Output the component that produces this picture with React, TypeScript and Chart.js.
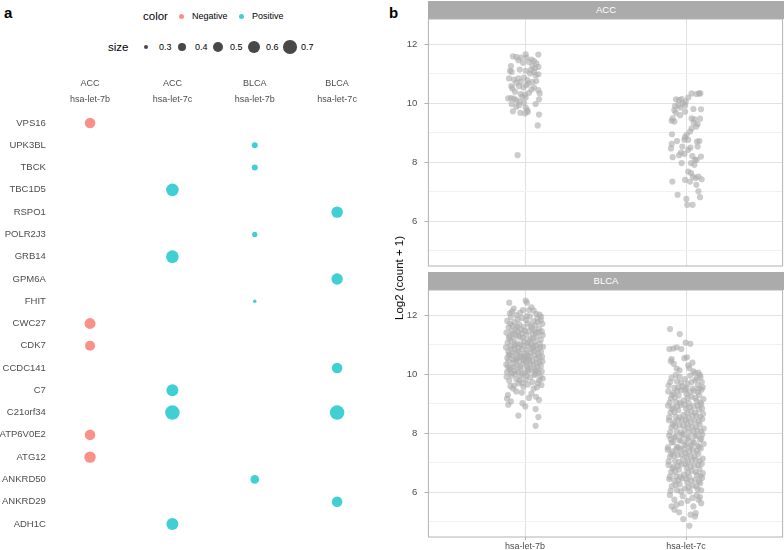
import React, { useEffect, useRef } from 'react';
import { Chart, registerables } from 'chart.js';

Chart.register(...registerables);

const FONT = '"Liberation Sans", Arial, Helvetica, sans-serif';

// ---------- Panel a : dot plot ----------
const cancerTypes = ['ACC', 'ACC', 'BLCA', 'BLCA'];
const mirnaNames = ['hsa-let-7b', 'hsa-let-7c', 'hsa-let-7b', 'hsa-let-7c'];
const genes = ['VPS16', 'UPK3BL', 'TBCK', 'TBC1D5', 'RSPO1', 'POLR2J3', 'GRB14', 'GPM6A', 'FHIT', 'CWC27', 'CDK7', 'CCDC141', 'C7', 'C21orf34', 'ATP6V0E2', 'ATG12', 'ANKRD50', 'ANKRD29', 'ADH1C'];
const dotGene = ['VPS16', 'UPK3BL', 'TBCK', 'TBC1D5', 'RSPO1', 'POLR2J3', 'GRB14', 'GPM6A', 'FHIT', 'CWC27', 'CDK7', 'CCDC141', 'C7', 'C21orf34', 'C21orf34', 'ATP6V0E2', 'ATG12', 'ANKRD50', 'ANKRD29', 'ADH1C'];
const dotColumn = [1, 3, 3, 2, 4, 3, 2, 4, 3, 1, 1, 4, 2, 2, 4, 1, 1, 3, 4, 2];
const dotSize = [0.52, 0.33, 0.33, 0.64, 0.565, 0.31, 0.64, 0.565, 0.27, 0.54, 0.49, 0.52, 0.6, 0.77, 0.77, 0.52, 0.565, 0.425, 0.52, 0.6];
const dotSign = ['Negative', 'Positive', 'Positive', 'Positive', 'Positive', 'Positive', 'Positive', 'Positive', 'Positive', 'Negative', 'Negative', 'Positive', 'Positive', 'Positive', 'Positive', 'Negative', 'Negative', 'Positive', 'Positive', 'Positive'];
const colorLevels = ['Negative', 'Positive'];
const legendSizes = [0.3, 0.4, 0.5, 0.6, 0.7];

// ---------- Panel b : jitter plots ----------
const facets = ['ACC', 'BLCA'];
const mirnaCategories = ['hsa-let-7b', 'hsa-let-7c'];
const yMajorTicks = [6, 8, 10, 12];
const yMinorTicks = [5, 7, 9, 11];
const yRange = [4.47, 12.87];

// [jitter offset from category, log2(count+1)]
const accLet7b = [
  [-0.075, 11.60], [-0.054, 11.58], [-0.027, 11.56], [0.004, 11.67], [0.008, 11.56], [0.041, 11.49], [0.083, 11.66],
  [-0.087, 11.27], [-0.041, 11.47], [-0.012, 11.38], [0.025, 11.41], [0.056, 11.44], [0.046, 11.27], [0.070, 11.36], [0.062, 11.20], [0.083, 11.24],
  [-0.093, 11.11], [-0.083, 11.07], [-0.033, 11.15], [0.004, 11.11], [0.035, 11.13], [0.056, 11.07], [0.083, 10.99], [0.066, 10.96], [0.031, 11.02],
  [-0.099, 10.85], [-0.068, 10.81], [-0.041, 10.85], [-0.027, 10.73], [-0.006, 10.88], [0.014, 10.79], [0.046, 10.73], [0.070, 10.76], [0.021, 10.68],
  [-0.085, 10.59], [-0.079, 10.51], [-0.054, 10.70], [-0.037, 10.59], [-0.010, 10.54], [0.008, 10.62], [0.041, 10.47], [0.083, 10.45], [0.056, 10.54], [0.091, 10.34],
  [-0.062, 10.40], [-0.027, 10.32], [0, 10.30], [0.004, 10.20], [-0.017, 10.23], [0.025, 10.36],
  [-0.104, 10.17], [-0.087, 10.18], [-0.068, 10.16], [-0.054, 10.11], [-0.033, 10.06], [-0.006, 10.02], [-0.083, 9.98], [-0.037, 9.94], [0.004, 9.86], [0.014, 9.77], [-0.054, 9.89], [0.087, 10.14], [0.066, 9.98],
  [-0.075, 9.73], [-0.029, 9.68], [0, 9.66], [0.017, 9.71], [0.087, 9.62], [0.079, 9.25],
  [-0.046, 8.24],
];

const accLet7c = [
  [-0.062, 10.14], [-0.043, 10.11], [-0.027, 10.15], [-0.002, 10.06], [0.014, 10.20], [0.035, 10.34], [0.066, 10.32], [0.081, 10.34], [0.089, 10.34],
  [-0.068, 9.91], [-0.048, 9.94], [-0.035, 9.86], [-0.019, 10.0], [-0.006, 9.93],
  [-0.072, 9.77], [-0.064, 9.68], [-0.083, 9.49], [-0.089, 9.41], [-0.072, 9.38], [-0.037, 9.60], [-0.006, 9.72],
  [0.046, 9.81], [0.035, 9.49], [0.052, 9.46], [0.093, 9.80], [0.048, 9.34], [0.087, 9.48], [0.072, 9.30], [0.035, 9.15], [0.064, 9.21], [0.025, 9.04], [0.004, 8.93], [-0.006, 8.85], [-0.010, 8.76], [0.014, 8.76],
  [-0.087, 8.95], [-0.089, 8.62], [-0.056, 8.72], [-0.093, 8.47], [-0.023, 8.53], [-0.031, 8.33], [-0.043, 8.24], [-0.083, 8.17], [-0.010, 8.28], [0.014, 8.42], [0.027, 8.50], [0.068, 8.70], [0.083, 8.72], [0.072, 8.53], [0.093, 8.19], [0.056, 8.08], [0.039, 8.21], [0.031, 7.97], [0.052, 7.91], [0.066, 8.08], [-0.027, 7.97],
  [-0.085, 7.34], [-0.006, 7.40], [0.014, 7.68], [0.031, 7.63], [0.043, 7.51], [0.025, 7.34], [0.060, 7.46], [0.077, 7.51], [0.097, 7.42], [0.064, 7.23], [0.077, 7.01], [0.087, 6.81],
  [-0.052, 6.89], [0.002, 6.75], [0.008, 6.55], [0.041, 6.55],
];

const blcaLet7b = [
  [-0.098, 12.44], [0.004, 12.51], [0.012, 12.44], [-0.080, 12.14], [-0.094, 12.08], [-0.012, 12.19], [0.025, 12.19], [0.054, 12.17], [-0.054, 12.02], [0.070, 12.06], [0.090, 12.03], [-0.030, 12.10], [0.040, 12.28], [-0.070, 12.24],
  [-0.110, 11.82], [-0.088, 11.95], [-0.066, 11.78], [-0.045, 11.88], [-0.020, 11.92], [0.006, 11.85], [0.030, 11.97], [0.052, 11.80], [0.076, 11.90], [0.098, 11.84], [0.108, 11.72], [-0.102, 11.60], [-0.078, 11.66], [-0.058, 11.55], [-0.036, 11.70], [-0.008, 11.62], [0.018, 11.74], [0.042, 11.58], [0.064, 11.68], [0.088, 11.56], [-0.024, 11.52], [0.010, 11.98], [-0.092, 11.72], [0.034, 11.64], [0.080, 11.78], [-0.048, 11.62], [0.100, 11.96],
  [-0.115, 11.42], [-0.096, 11.30], [-0.082, 11.48], [-0.070, 11.20], [-0.060, 11.36], [-0.044, 11.45], [-0.032, 11.26], [-0.018, 11.40], [-0.004, 11.12], [0.008, 11.33], [0.022, 11.46], [0.036, 11.22], [0.048, 11.38], [0.062, 11.10], [0.074, 11.28], [0.086, 11.44], [0.098, 11.18], [0.110, 11.34], [-0.108, 11.08], [-0.088, 11.15], [-0.050, 11.05], [-0.026, 11.02], [0.000, 11.48], [0.016, 11.06], [0.040, 11.02], [0.058, 11.49], [0.092, 11.04], [-0.064, 11.02], [-0.012, 11.24], [0.028, 11.14], [0.068, 11.42], [-0.100, 11.24], [-0.040, 11.32], [0.052, 11.24], [0.104, 11.46], [-0.076, 11.38],
  [-0.118, 10.92], [-0.104, 10.78], [-0.090, 10.96], [-0.078, 10.64], [-0.066, 10.84], [-0.052, 10.55], [-0.040, 10.90], [-0.028, 10.70], [-0.014, 10.98], [-0.002, 10.60], [0.010, 10.82], [0.024, 10.52], [0.036, 10.74], [0.050, 10.94], [0.062, 10.66], [0.076, 10.86], [0.088, 10.58], [0.100, 10.76], [0.112, 10.94], [-0.110, 10.56], [-0.094, 10.68], [-0.072, 10.50], [-0.058, 10.72], [-0.034, 10.58], [-0.020, 10.86], [0.004, 10.72], [0.018, 10.96], [0.030, 10.62], [0.044, 10.86], [0.070, 10.54], [0.082, 10.72], [0.106, 10.60], [-0.086, 10.86], [-0.046, 10.78], [-0.008, 10.52], [0.056, 10.80], [0.094, 10.92], [-0.062, 10.98], [0.012, 10.64], [-0.100, 10.66], [0.066, 10.98], [-0.024, 10.62],
  [-0.116, 10.34], [-0.102, 10.46], [-0.090, 10.22], [-0.076, 10.40], [-0.064, 10.12], [-0.050, 10.30], [-0.038, 10.44], [-0.026, 10.18], [-0.012, 10.36], [0.000, 10.06], [0.012, 10.28], [0.026, 10.46], [0.038, 10.14], [0.052, 10.34], [0.064, 10.02], [0.078, 10.24], [0.090, 10.42], [0.104, 10.10], [-0.112, 10.08], [-0.096, 10.16], [-0.082, 10.04], [-0.070, 10.26], [-0.056, 10.48], [-0.044, 10.08], [-0.030, 10.26], [-0.018, 10.02], [0.006, 10.42], [0.020, 10.12], [0.032, 10.32], [0.046, 10.48], [0.058, 10.18], [0.072, 10.38], [0.084, 10.06], [0.098, 10.28], [0.108, 10.44], [-0.060, 10.02], [0.016, 10.20], [-0.006, 10.48], [0.070, 10.12], [-0.106, 10.26],
  [-0.114, 9.92], [-0.098, 9.78], [-0.084, 9.96], [-0.068, 9.62], [-0.054, 9.84], [-0.040, 9.70], [-0.026, 9.94], [-0.010, 9.58], [0.004, 9.82], [0.018, 9.66], [0.032, 9.90], [0.046, 9.74], [0.060, 9.98], [0.074, 9.56], [0.088, 9.80], [0.102, 9.64], [-0.074, 9.52], [-0.034, 9.80], [0.010, 9.96], [0.054, 9.52], [0.096, 9.92], [-0.090, 9.60], [-0.016, 9.70], [0.080, 9.70], [0.110, 9.86],
  [-0.106, 9.30], [-0.112, 9.18], [-0.104, 8.97], [-0.088, 9.08], [-0.054, 9.42], [0.025, 9.20], [0.068, 9.24], [0.087, 9.13], [-0.016, 9.02], [0.002, 8.91], [0.066, 8.82], [-0.041, 8.60], [0.083, 8.55], [0.066, 8.25], [0.040, 9.35], [-0.020, 9.38],
];

const blcaLet7c = [
  [-0.099, 11.54], [-0.039, 11.37], [-0.002, 11.08], [0.027, 11.04], [-0.103, 10.86], [-0.079, 10.88], [-0.058, 10.92], [-0.029, 10.86], [-0.010, 10.55], [0.006, 10.58], [-0.089, 10.52], [-0.076, 10.36], [-0.058, 10.20], [0.014, 10.31], [0.021, 10.21], [0.046, 10.10], [0.056, 10.04], [0.077, 10.06], [0.087, 9.98], [-0.094, 10.45], [0.040, 10.40], [-0.040, 10.14],
  [-0.108, 9.62], [-0.090, 9.88], [-0.072, 9.54], [-0.056, 9.76], [-0.040, 9.92], [-0.022, 9.60], [-0.006, 9.84], [0.010, 9.68], [0.026, 9.96], [0.042, 9.52], [0.058, 9.80], [0.074, 9.64], [0.090, 9.90], [0.104, 9.56], [-0.098, 9.74], [-0.064, 9.98], [-0.030, 9.72], [0.002, 9.54], [0.034, 9.74], [0.066, 9.86], [0.098, 9.74], [-0.048, 9.56], [0.082, 9.52],
  [-0.110, 9.42], [-0.094, 9.18], [-0.078, 9.36], [-0.062, 9.06], [-0.046, 9.28], [-0.030, 9.46], [-0.014, 9.12], [0.002, 9.34], [0.018, 9.02], [0.034, 9.24], [0.050, 9.44], [0.066, 9.10], [0.082, 9.30], [0.096, 9.48], [0.108, 9.16], [-0.102, 9.04], [-0.070, 9.22], [-0.038, 9.04], [-0.006, 9.48], [0.026, 9.40], [0.058, 9.20], [0.090, 9.04], [-0.054, 9.44], [0.010, 9.20], [0.074, 9.40], [-0.086, 9.30],
  [-0.112, 8.94], [-0.096, 8.70], [-0.080, 8.88], [-0.064, 8.56], [-0.048, 8.78], [-0.032, 8.96], [-0.016, 8.62], [0.000, 8.84], [0.016, 8.52], [0.032, 8.74], [0.048, 8.92], [0.064, 8.60], [0.080, 8.80], [0.094, 8.98], [0.106, 8.66], [-0.104, 8.54], [-0.072, 8.72], [-0.040, 8.54], [-0.008, 8.98], [0.024, 8.88], [0.056, 8.70], [0.088, 8.56], [-0.056, 8.90], [0.008, 8.68], [0.072, 8.94], [-0.088, 8.82], [0.040, 8.58], [0.100, 8.84],
  [-0.106, 8.44], [-0.090, 8.20], [-0.073, 8.38], [-0.058, 8.06], [-0.041, 8.26], [-0.025, 8.46], [-0.010, 8.12], [0.007, 8.32], [0.022, 8.02], [0.038, 8.22], [0.054, 8.42], [0.070, 8.10], [0.085, 8.30], [0.101, 8.48], [0.110, 8.16], [-0.098, 8.04], [-0.066, 8.24], [-0.034, 8.02], [-0.002, 8.46], [0.030, 8.38], [0.062, 8.22], [0.093, 8.06], [-0.050, 8.44], [0.014, 8.18], [0.078, 8.40], [-0.082, 8.30], [0.046, 8.06], [-0.018, 8.28],
  [-0.105, 7.92], [-0.089, 7.68], [-0.073, 7.86], [-0.057, 7.54], [-0.041, 7.76], [-0.025, 7.94], [-0.009, 7.60], [0.007, 7.82], [0.023, 7.52], [0.039, 7.72], [0.055, 7.90], [0.071, 7.58], [0.087, 7.78], [0.101, 7.96], [0.110, 7.64], [-0.112, 7.52], [-0.079, 7.70], [-0.047, 7.52], [-0.015, 7.96], [0.017, 7.86], [0.049, 7.68], [0.081, 7.54], [-0.063, 7.88], [0.001, 7.66], [0.065, 7.92], [-0.095, 7.80], [0.033, 7.58], [0.094, 7.82], [-0.031, 7.74],
  [-0.114, 7.44], [-0.100, 7.20], [-0.084, 7.38], [-0.068, 7.06], [-0.052, 7.26], [-0.036, 7.46], [-0.020, 7.12], [-0.004, 7.32], [0.012, 7.02], [0.028, 7.22], [0.044, 7.42], [0.060, 7.10], [0.076, 7.30], [0.092, 7.48], [0.104, 7.14], [-0.108, 7.04], [-0.076, 7.24], [-0.044, 7.02], [-0.012, 7.46], [0.020, 7.38], [0.052, 7.22], [0.084, 7.06], [-0.060, 7.44], [0.004, 7.18], [0.068, 7.40], [-0.092, 7.30], [0.036, 7.06], [-0.028, 7.28],
  [-0.108, 6.92], [-0.092, 6.68], [-0.076, 6.86], [-0.060, 6.54], [-0.044, 6.76], [-0.028, 6.94], [-0.012, 6.60], [0.004, 6.82], [0.020, 6.52], [0.036, 6.72], [0.052, 6.90], [0.068, 6.58], [0.084, 6.78], [0.098, 6.96], [0.104, 6.64], [-0.100, 6.52], [-0.068, 6.70], [-0.036, 6.52], [-0.004, 6.96], [0.028, 6.86], [0.060, 6.68], [0.090, 6.54], [-0.052, 6.88], [0.012, 6.66], [0.076, 6.92], [-0.084, 6.80],
  [-0.104, 6.44], [-0.088, 6.20], [-0.072, 6.38], [-0.056, 6.06], [-0.040, 6.26], [-0.024, 6.46], [-0.008, 6.12], [0.008, 6.32], [0.024, 6.02], [0.040, 6.22], [0.056, 6.42], [0.072, 6.10], [0.088, 6.30], [0.100, 6.48], [-0.096, 6.04], [-0.064, 6.24], [-0.032, 6.02], [0.000, 6.46], [0.032, 6.38], [0.064, 6.20], [0.094, 6.06], [-0.048, 6.40], [0.016, 6.16], [0.080, 6.36],
  [-0.072, 5.74], [-0.089, 5.51], [-0.058, 5.57], [-0.043, 5.31], [-0.072, 5.40], [-0.017, 5.08], [0.021, 4.85], [0.029, 5.23], [0.056, 5.17], [0.060, 5.28], [0.046, 5.51], [0.077, 5.74], [0.087, 5.83], [-0.030, 5.62], [0.010, 5.70], [-0.100, 5.90], [0.066, 5.90], [-0.020, 5.86], [0.040, 5.80], [0.094, 5.62],
];

const facetData = [
  [accLet7b, accLet7c],
  [blcaLet7b, blcaLet7c],
];

// ---------- styling ----------
const signColor: Record<string, string> = {
  Negative: 'rgba(248,118,109,0.8)',
  Positive: 'rgba(0,191,196,0.75)',
};
const sizeKeyColor = 'rgba(40,40,40,0.85)';
const jitterColor = 'rgba(172,172,172,0.62)';
const textGrey = '#4D4D4D';
const borderGrey = '#B3B3B3';
const stripGrey = '#ABABAB';
const majorGrid = '#E2E2E2';
const minorGrid = '#F1F1F1';

const sizeToRadius = (s: number) => Math.sqrt(Math.max(100 * s - 24, 1));

const noEdgePadding = (s: any) => {
  s.paddingTop = 0;
  s.paddingBottom = 0;
  s.paddingLeft = 0;
  s.paddingRight = 0;
};

const panelBorder = {
  id: 'panelBorder',
  afterDatasetsDraw(chart: any) {
    const { ctx, chartArea } = chart;
    ctx.save();
    ctx.strokeStyle = borderGrey;
    ctx.lineWidth = 1;
    ctx.strokeRect(chartArea.left, chartArea.top, chartArea.right - chartArea.left, chartArea.bottom - chartArea.top);
    ctx.restore();
  },
};

function DotPlot() {
  const ref = useRef<HTMLCanvasElement>(null);
  useEffect(() => {
    if (!ref.current) return;
    const chart = new Chart(ref.current, {
      type: 'bubble',
      data: {
        datasets: colorLevels.map((level) => ({
          label: level,
          data: dotGene
            .map((g, i) => ({ x: dotColumn[i], y: genes.indexOf(g) + 1, r: sizeToRadius(dotSize[i]), sign: dotSign[i] }))
            .filter((d) => d.sign === level),
          backgroundColor: signColor[level],
          borderWidth: 0,
        })),
      },
      options: {
        responsive: false,
        animation: false,
        events: [],
        layout: { autoPadding: false, padding: { left: 0, right: 13.7, top: 0, bottom: 14.9 } },
        plugins: { legend: { display: false }, tooltip: { enabled: false } },
        scales: {
          x: {
            type: 'linear',
            position: 'top',
            min: 0.5,
            max: 4.5,
            afterBuildTicks: (s: any) => { s.ticks = cancerTypes.map((_, i) => ({ value: i + 1 })); },
            afterFit: (s: any) => { s.height = 111.9; noEdgePadding(s); },
            ticks: {
              callback: (v: any) => [cancerTypes[Math.round(v) - 1], mirnaNames[Math.round(v) - 1]],
              color: textGrey,
              font: { family: FONT, size: 9, lineHeight: 1.78 },
              padding: 4,
              maxRotation: 0,
              autoSkip: false,
            },
            grid: { display: false, drawTicks: false },
            border: { display: false },
          },
          y: {
            type: 'linear',
            reverse: true,
            min: 0.5,
            max: genes.length + 0.5,
            afterBuildTicks: (s: any) => { s.ticks = genes.map((_, i) => ({ value: i + 1 })); },
            afterFit: (s: any) => { s.width = 48.85; noEdgePadding(s); },
            ticks: {
              callback: (v: any) => genes[Math.round(v) - 1],
              color: textGrey,
              font: { family: FONT, size: 9.5 },
              padding: 3,
              autoSkip: false,
            },
            grid: { display: false, drawTicks: false },
            border: { display: false },
          },
        },
      } as any,
    });
    return () => chart.destroy();
  }, []);
  return <canvas ref={ref} width={392} height={550} style={{ position: 'absolute', left: 0, top: 0, width: 392, height: 550 }} />;
}

function JitterPanel({ facetIndex, top, height, showX }: { facetIndex: number; top: number; height: number; showX: boolean }) {
  const ref = useRef<HTMLCanvasElement>(null);
  useEffect(() => {
    if (!ref.current) return;
    const groups = facetData[facetIndex];
    const chart = new Chart(ref.current, {
      type: 'scatter',
      data: {
        datasets: groups.map((pts, gi) => ({
          label: mirnaCategories[gi],
          data: pts.map((p) => ({ x: gi + 1 + p[0], y: p[1] })),
          backgroundColor: jitterColor,
          borderWidth: 0,
          pointRadius: 3.1,
        })),
      },
      options: {
        responsive: false,
        animation: false,
        events: [],
        layout: { autoPadding: false, padding: { left: 0, right: 1.4, top: 1, bottom: showX ? 0 : 1 } },
        plugins: { legend: { display: false }, tooltip: { enabled: false } },
        scales: {
          x: {
            type: 'linear',
            min: 0.4,
            max: 2.6,
            afterBuildTicks: (s: any) => { s.ticks = mirnaCategories.map((_, i) => ({ value: i + 1 })); },
            afterFit: (s: any) => { s.height = showX ? 13 : 0; noEdgePadding(s); },
            ticks: {
              display: showX,
              callback: (v: any) => mirnaCategories[Math.round(v) - 1],
              color: textGrey,
              font: { family: FONT, size: 9 },
              padding: 1,
              maxRotation: 0,
              autoSkip: false,
            },
            grid: { color: majorGrid, lineWidth: 1, drawTicks: showX, tickLength: 3, tickColor: borderGrey },
            border: { display: false },
          },
          y: {
            type: 'linear',
            min: yRange[0],
            max: yRange[1],
            afterBuildTicks: (s: any) => {
              s.ticks = [...yMinorTicks, ...yMajorTicks].sort((a, b) => a - b).map((v) => ({ value: v }));
            },
            afterFit: (s: any) => { s.width = 36.4; noEdgePadding(s); },
            ticks: {
              callback: (v: any) => (yMajorTicks.includes(v) ? String(v) : ''),
              color: textGrey,
              font: { family: FONT, size: 9.5 },
              padding: 7,
              autoSkip: false,
            },
            grid: {
              color: (c: any) => (c.tick && yMajorTicks.includes(c.tick.value) ? majorGrid : minorGrid),
              tickColor: (c: any) => (c.tick && yMajorTicks.includes(c.tick.value) ? borderGrey : 'rgba(0,0,0,0)'),
              lineWidth: 1,
              tickLength: 4,
            },
            border: { display: false },
          },
        },
      } as any,
      plugins: [panelBorder],
    });
    return () => chart.destroy();
  }, [facetIndex, showX]);
  return <canvas ref={ref} width={392} height={height} style={{ position: 'absolute', left: 392, top, width: 392, height }} />;
}

const abs = (extra: React.CSSProperties): React.CSSProperties => ({ position: 'absolute', whiteSpace: 'nowrap', fontFamily: FONT, ...extra });

function Legend() {
  const row1 = 16;
  const row2 = 47;
  const colorKeyX = [181, 241];
  const colorLabelX = [192, 252];
  const sizeKeyX = [146, 182, 218, 254, 290];
  const sizeLabelX = [159, 195, 230, 266, 301];
  return (
    <>
      <div style={abs({ left: 143, top: row1 - 8, height: 16, lineHeight: '16px', fontSize: 11.5, color: '#000' })}>color</div>
      {colorLevels.map((lvl, i) => (
        <React.Fragment key={lvl}>
          <div style={abs({ left: colorKeyX[i] - 2.5, top: row1 - 2.5, width: 5, height: 5, borderRadius: '50%', background: signColor[lvl] })} />
          <div style={abs({ left: colorLabelX[i], top: row1 - 7, height: 14, lineHeight: '14px', fontSize: 9, color: '#000' })}>{lvl}</div>
        </React.Fragment>
      ))}
      <div style={abs({ left: 108, top: row2 - 8, height: 16, lineHeight: '16px', fontSize: 11.5, color: '#000' })}>size</div>
      {legendSizes.map((s, i) => {
        const r = sizeToRadius(s);
        return (
          <React.Fragment key={s}>
            <div style={abs({ left: sizeKeyX[i] - r, top: row2 - r, width: 2 * r, height: 2 * r, borderRadius: '50%', background: sizeKeyColor })} />
            <div style={abs({ left: sizeLabelX[i], top: row2 - 7, height: 14, lineHeight: '14px', fontSize: 9, color: '#000' })}>{s.toFixed(1)}</div>
          </React.Fragment>
        );
      })}
    </>
  );
}

export default function App() {
  return (
    <div style={{ position: 'absolute', left: 0, top: 0, width: 784, height: 550, background: '#fff', overflow: 'hidden' }}>
      <div style={abs({ left: 4, top: 5, fontSize: 15, lineHeight: '15px', fontWeight: 'bold', color: '#000' })}>a</div>
      <div style={abs({ left: 389, top: 5, fontSize: 15, lineHeight: '15px', fontWeight: 'bold', color: '#000' })}>b</div>
      <Legend />
      <DotPlot />
      <div style={abs({ left: 428, top: 1, width: 356, height: 18, lineHeight: '18px', background: stripGrey, color: '#fff', fontSize: 9.5, textAlign: 'center' })}>{facets[0]}</div>
      <div style={abs({ left: 428, top: 272, width: 356, height: 18, lineHeight: '18px', background: stripGrey, color: '#fff', fontSize: 9.5, textAlign: 'center' })}>{facets[1]}</div>
      <JitterPanel facetIndex={0} top={18} height={249} showX={false} />
      <JitterPanel facetIndex={1} top={289} height={261} showX={true} />
      <div style={abs({ left: 399, top: 278, fontSize: 11.5, color: '#000', transform: 'translate(-50%, -50%) rotate(-90deg)' })}>Log2 (count + 1)</div>
    </div>
  );
}
